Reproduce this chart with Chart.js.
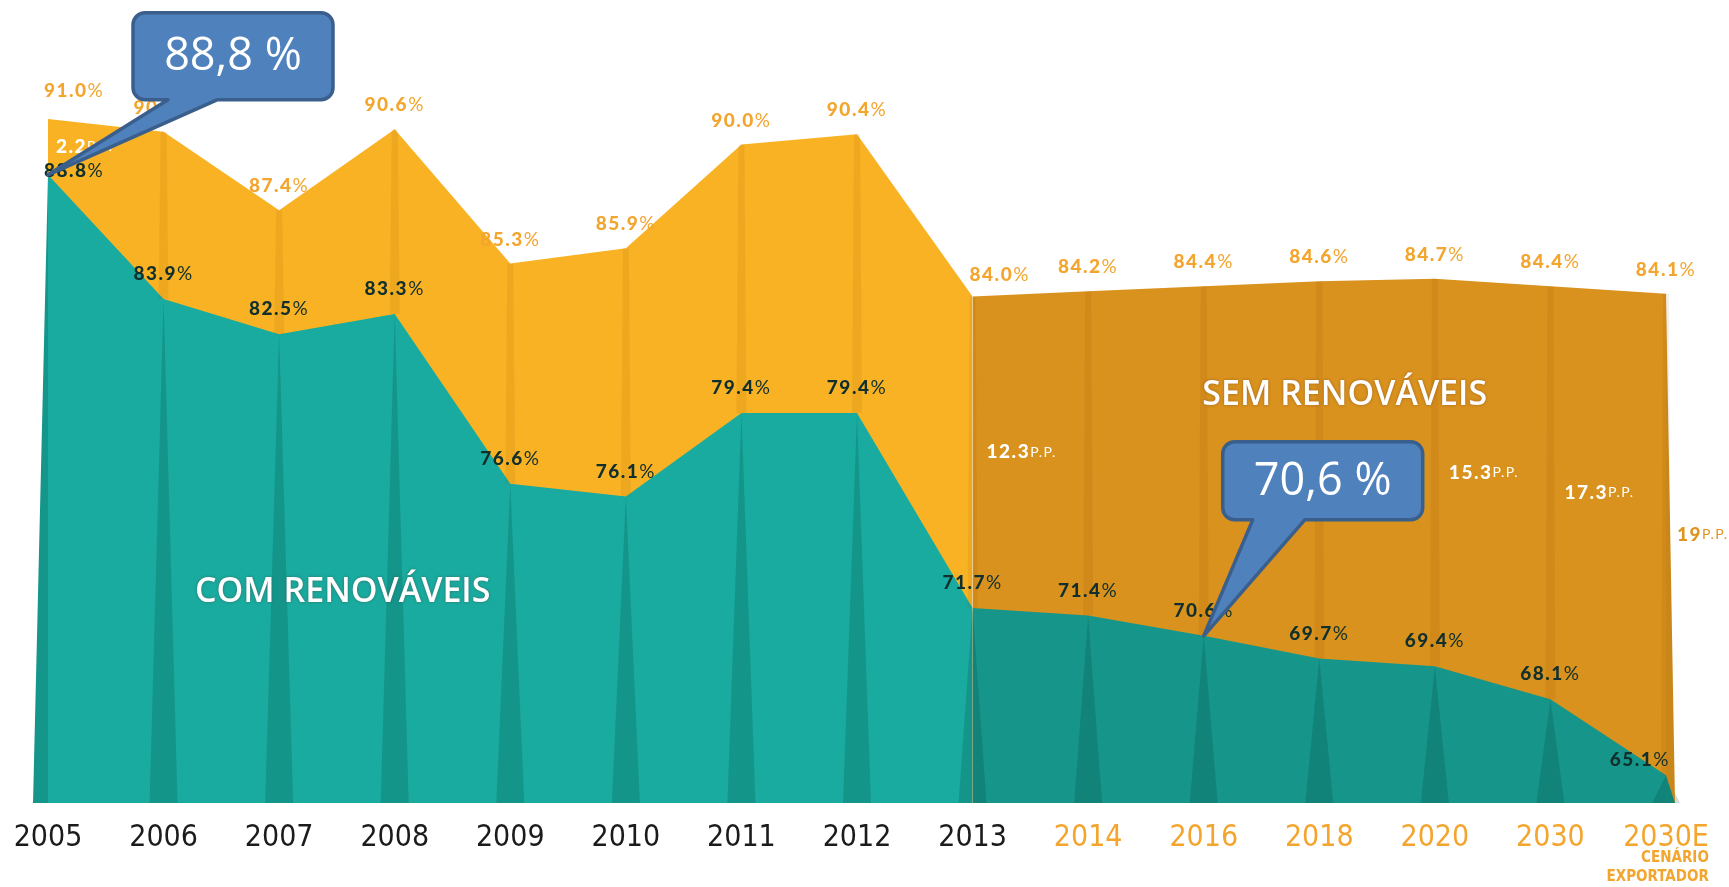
<!DOCTYPE html>
<html>
<head>
<meta charset="utf-8">
<script src="https://cdn.jsdelivr.net/npm/chart.js@4.4.1/dist/chart.umd.min.js"></script>
<style>
  html, body { margin: 0; padding: 0; background: #fff; }
  #wrap { width: 1729px; height: 887px; position: relative; }
</style>
</head>
<body>
<div id="wrap"><canvas id="chart"></canvas></div>
<script>
const years = ['2005', '2006', '2007', '2008', '2009', '2010', '2011', '2012', '2013', '2014', '2016', '2018', '2020', '2030', '2030E'];
const semRenovaveis = [91.0, 90.5, 87.4, 90.6, 85.3, 85.9, 90.0, 90.4, 84.0, 84.2, 84.4, 84.6, 84.7, 84.4, 84.1];
const comRenovaveis = [88.8, 83.9, 82.5, 83.3, 76.6, 76.1, 79.4, 79.4, 71.7, 71.4, 70.6, 69.7, 69.4, 68.1, 65.1];
// diferença em pontos percentuais, como escrita no gráfico
const gapLabels = ['2.2', null, null, null, null, null, null, null, '12.3', null, null, null, '15.3', '17.3', '19'];
const callouts = [
    { index: 0, text: '88,8 %' },
    { index: 10, text: '70,6 %' }
];
const firstProjection = 9; // 2014 em diante: rótulos laranja
const darkFrom = 8;        // a partir de 2013 as cores ficam mais escuras

const ORANGE = '#F9B224';
const ORANGE_DARK = '#D9921D';
const TEAL = '#19AB9F';
const TEAL_DARK = '#16968B';
const LABEL_ORANGE = '#F3A52E';
const LABEL_DARK = '#11302D';
const TICK_FONT = '"DejaVu Sans Condensed", "Liberation Sans", sans-serif';

function drawPct(ctx, num, suffix, px, py, align, color, size, suffixSize) {
    const bold = `900 ${size}px Lato`;
    const thin = `${suffixSize || size}px Lato`;
    ctx.font = bold;
    const w1 = ctx.measureText(num).width;
    ctx.font = thin;
    const w2 = ctx.measureText(suffix).width;
    const total = w1 + w2;
    let left = px - total / 2;
    if (align === 'left') left = px;
    if (align === 'right') left = px - total;
    ctx.fillStyle = color;
    ctx.textAlign = 'left';
    ctx.textBaseline = 'middle';
    ctx.font = bold;
    ctx.fillText(num, left, py);
    ctx.font = thin;
    ctx.fillText(suffix, left + w1, py);
}

function drawCallout(ctx, tx, ty, c) {
    const bx = tx + c.dx, by = ty + c.dy, w = c.w, h = c.h, r = 12;
    ctx.beginPath();
    ctx.moveTo(bx + r, by);
    ctx.arcTo(bx + w, by, bx + w, by + h, r);
    ctx.arcTo(bx + w, by + h, bx, by + h, r);
    ctx.lineTo(bx + c.tailB, by + h);
    ctx.lineTo(tx, ty);
    ctx.lineTo(bx + c.tailA, by + h);
    ctx.arcTo(bx, by + h, bx, by, r);
    ctx.arcTo(bx, by, bx + w, by, r);
    ctx.closePath();
    ctx.fillStyle = '#4F81BD';
    ctx.fill();
    ctx.lineWidth = 3.5;
    ctx.lineJoin = 'round';
    ctx.strokeStyle = '#3A5F8C';
    ctx.stroke();
    ctx.fillStyle = '#fff';
    ctx.font = '45px "Open Sans"';
    ctx.textAlign = 'center';
    ctx.textBaseline = 'middle';
    ctx.fillText(c.text, bx + w / 2, by + h / 2 + 1);
}

const calloutShapes = [
    { dx: 85, dy: -162, w: 200, h: 87, tailA: 35, tailB: 84 },
    { dx: 19, dy: -194, w: 200, h: 78, tailA: 30, tailB: 82 }
];

const decor = {
    id: 'decor',
    afterDatasetsDraw(chart) {
        const { ctx, scales: { x, y } } = chart;
        const base = y.bottom;
        const last = years.length - 1;
        ctx.save();

        // dobras verticais
        years.forEach((_, i) => {
            const px = x.getPixelForValue(i);
            const yo = y.getPixelForValue(semRenovaveis[i]);
            const yt = y.getPixelForValue(comRenovaveis[i]);
            if (i > 0) {
                ctx.fillStyle = 'rgba(130,70,0,0.09)';
                ctx.beginPath();
                ctx.moveTo(px - 3, yo);
                ctx.lineTo(px + 3, yo);
                ctx.lineTo(px + 5, yt);
                ctx.lineTo(px - 5, yt);
                ctx.closePath();
                ctx.fill();
                ctx.fillStyle = 'rgba(0,40,35,0.17)';
                ctx.beginPath();
                ctx.moveTo(px, yt);
                ctx.lineTo(px + 14, base);
                ctx.lineTo(px - 14, base);
                ctx.closePath();
                ctx.fill();
            }
            if (i === 0) {
                ctx.fillStyle = '#14968B';
                ctx.beginPath();
                ctx.moveTo(px, yt);
                ctx.lineTo(px, base);
                ctx.lineTo(px - 15, base);
                ctx.closePath();
                ctx.fill();
            }
            if (i === last) {
                ctx.fillStyle = '#C98619';
                ctx.beginPath();
                ctx.moveTo(px, yo);
                ctx.lineTo(px + 9, base);
                ctx.lineTo(px, base);
                ctx.closePath();
                ctx.fill();
                ctx.fillStyle = '#12857B';
                ctx.beginPath();
                ctx.moveTo(px, yt);
                ctx.lineTo(px + 9, base);
                ctx.lineTo(px, base);
                ctx.closePath();
                ctx.fill();
            }
        });

        ctx.letterSpacing = '1.5px';
        years.forEach((_, i) => {
            const px = x.getPixelForValue(i);
            const yo = y.getPixelForValue(semRenovaveis[i]);
            const yt = y.getPixelForValue(comRenovaveis[i]);

            // total sem renováveis
            if (i === 0) drawPct(ctx, semRenovaveis[i].toFixed(1), '%', px - 4, yo - 28, 'left', LABEL_ORANGE, 19);
            else if (i === darkFrom) drawPct(ctx, semRenovaveis[i].toFixed(1), '%', px - 3, yo - 22, 'left', LABEL_ORANGE, 19);
            else drawPct(ctx, semRenovaveis[i].toFixed(1), '%', px, yo - 24, 'center', LABEL_ORANGE, 19);

            // com renováveis
            if (i === 0) drawPct(ctx, comRenovaveis[i].toFixed(1), '%', px - 4, yt - 4, 'left', LABEL_DARK, 19);
            else if (i === last) drawPct(ctx, comRenovaveis[i].toFixed(1), '%', px + 4, yt - 15, 'right', LABEL_DARK, 19);
            else drawPct(ctx, comRenovaveis[i].toFixed(1), '%', px, yt - 25, 'center', LABEL_DARK, 19);

            // diferença
            if (gapLabels[i]) {
                const col = i === last ? '#DE951F' : '#fff';
                const off = i === 0 ? 8 : (i === last ? 11 : 14);
                drawPct(ctx, gapLabels[i], 'P.P.', px + off, (yo + yt) / 2, 'left', col, 19, 14);
            }
        });
        ctx.letterSpacing = '0px';

        // títulos das áreas
        ctx.font = '600 34px "Open Sans"';
        ctx.textAlign = 'center';
        ctx.textBaseline = 'middle';
        ctx.shadowColor = 'rgba(90,40,40,0.45)';
        ctx.shadowBlur = 3;
        ctx.fillStyle = '#fff';
        ctx.fillText('COM RENOVÁVEIS', x.getPixelForValue(2.55), y.getPixelForValue(72.3));
        ctx.fillText('SEM RENOVÁVEIS', x.getPixelForValue(11.22), y.getPixelForValue(80.1));
        ctx.shadowColor = 'transparent';
        ctx.shadowBlur = 0;

        // balões
        callouts.forEach((c, k) => {
            const tx = x.getPixelForValue(c.index);
            const ty = y.getPixelForValue(comRenovaveis[c.index]);
            drawCallout(ctx, tx, ty, Object.assign({ text: c.text }, calloutShapes[k]));
        });
        ctx.restore();
    },
    afterDraw(chart) {
        const { ctx, scales: { x } } = chart;
        const last = years.length - 1;
        const px = x.getPixelForValue(last);
        ctx.save();
        ctx.font = '30px ' + TICK_FONT;
        const right = px + ctx.measureText(years[last]).width / 2;
        ctx.font = 'bold 15px ' + TICK_FONT;
        ctx.fillStyle = LABEL_ORANGE;
        ctx.textAlign = 'right';
        ctx.textBaseline = 'middle';
        ctx.fillText('CENÁRIO', right, x.bottom - 29);
        ctx.fillText('EXPORTADOR', right, x.bottom - 10);
        ctx.restore();
    }
};

const chart = new Chart(document.getElementById('chart'), {
    type: 'line',
    data: {
        labels: years,
        datasets: [{
            label: 'Com renováveis',
            data: comRenovaveis,
            fill: 'start',
            backgroundColor: TEAL,
            borderWidth: 0,
            pointRadius: 0,
            tension: 0,
            segment: { backgroundColor: c => c.p0DataIndex >= darkFrom ? TEAL_DARK : TEAL }
        }, {
            label: 'Sem renováveis',
            data: semRenovaveis,
            fill: 'start',
            backgroundColor: ORANGE,
            borderWidth: 0,
            pointRadius: 0,
            tension: 0,
            segment: { backgroundColor: c => c.p0DataIndex >= darkFrom ? ORANGE_DARK : ORANGE }
        }]
    },
    options: {
        responsive: true,
        maintainAspectRatio: false,
        animation: false,
        devicePixelRatio: 1,
        layout: { padding: { left: 48, right: 63, top: 0, bottom: 0 } },
        plugins: {
            legend: { display: false },
            tooltip: { enabled: false }
        },
        scales: {
            x: {
                grid: { display: false, drawTicks: false },
                border: { display: false },
                ticks: {
                    autoSkip: false,
                    maxRotation: 0,
                    padding: 17,
                    font: { family: TICK_FONT, size: 30 },
                    color: c => c.index >= firstProjection ? LABEL_ORANGE : '#1b1b1b'
                },
                afterFit: s => { s.height = 84; s.paddingLeft = 0; s.paddingRight = 0; }
            },
            y: { display: false, min: 64, max: 95.7 }
        }
    },
    plugins: [decor]
});
</script>
</body>
</html>
